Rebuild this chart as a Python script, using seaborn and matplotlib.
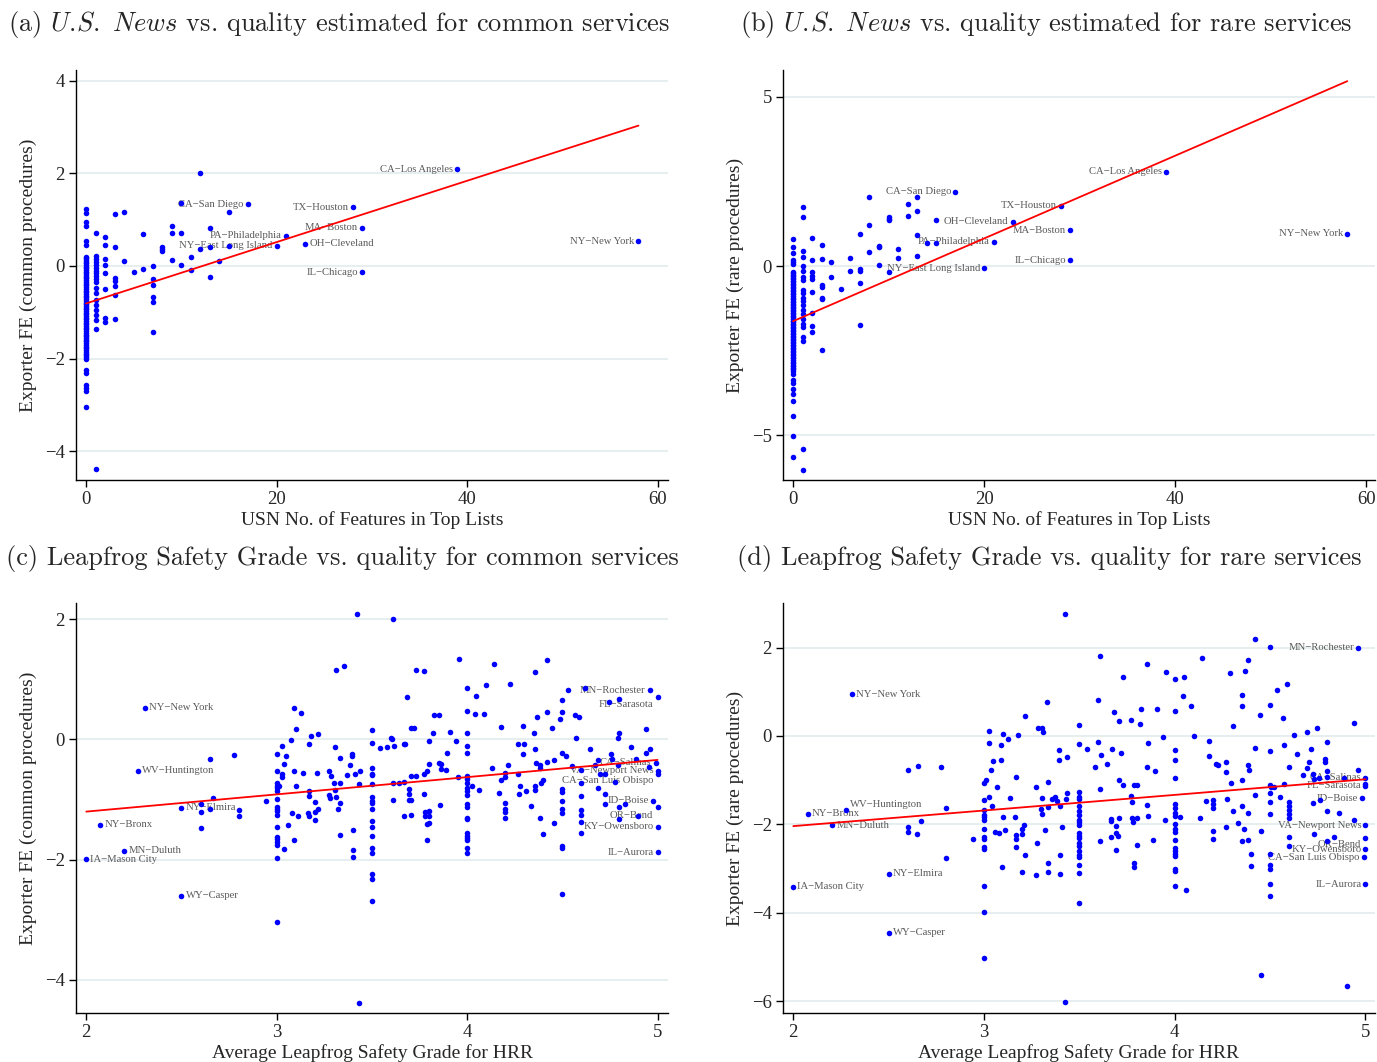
import matplotlib
matplotlib.use("Agg")
import pandas as pd
import matplotlib.pyplot as plt
import seaborn as sns

# ---------------- (a) U.S. News features vs FE, common procedures ----------------
# hospitals with zero USN features (dense column at x = 0)
a_fe_zero = [1.22, 1.14, 0.94, 0.86, 0.53, 0.45,
             0.20, 0.17, 0.13, 0.09, 0.06, 0.02, -0.02, -0.05, -0.09, -0.13, -0.16, -0.20,
             -0.24, -0.27, -0.31, -0.35, -0.38, -0.42, -0.46, -0.49, -0.53, -0.57, -0.60,
             -0.64, -0.68, -0.71, -0.75, -0.79, -0.82, -0.86, -0.90, -0.93, -0.97, -1.01,
             -1.04, -1.08, -1.12, -1.15, -1.19, -1.23, -1.26, -1.30, -1.34, -1.37, -1.41,
             -1.45, -1.48, -1.52, -1.56, -1.59, -1.63, -1.67, -1.70, -1.74, -1.78, -1.81,
             -1.85, -1.89, -1.92, -1.96, -2.01,
             -2.24, -2.32, -2.57, -2.64, -2.70, -3.04]
a_usn = [1, 1, 1, 1, 1, 1, 1, 1, 1, 1, 1, 1, 1, 1, 1, 1, 1, 1, 1, 1,
         2, 2, 2, 2, 2, 2, 2, 2,
         3, 3, 3, 3, 3, 3, 3,
         4, 4, 5, 6, 6,
         7, 7, 7, 7, 7, 7,
         8, 8, 8, 9, 9, 9, 10, 10, 10, 11, 11, 12, 12, 13, 13, 13, 14, 15, 15]
a_fe = [0.72, 0.22, 0.15, 0.08, 0.02, -0.04, -0.10, -0.16, -0.22, -0.28, -0.34, -0.48,
        -0.59, -0.73, -0.84, -0.95, -1.06, -1.17, -1.37, -4.39,
        0.63, 0.45, 0.15, 0.02, -0.16, -0.49, -1.12, -1.22,
        1.12, 0.40, -0.27, -0.32, -0.43, -0.63, -1.15,
        1.17, 0.10, -0.12, 0.68, -0.06,
        -0.01, -0.28, -0.41, -0.68, -0.77, -1.42,
        0.40, 0.36, 0.33, 0.86, 0.72, 0.13, 1.35, 0.72, 0.03, 0.19, -0.09, 2.00, 0.37,
        0.82, 0.41, -0.24, 0.10, 1.16, 0.43]
a_lab_name = ["CA\u2212Los Angeles", "CA\u2212San Diego", "TX\u2212Houston", "MA\u2212Boston",
              "PA\u2212Philadelphia", "NY\u2212East Long Island", "OH\u2212Cleveland",
              "IL\u2212Chicago", "NY\u2212New York"]
a_lab_usn = [39, 17, 28, 29, 21, 20, 23, 29, 58]
a_lab_fe = [2.09, 1.33, 1.27, 0.82, 0.65, 0.44, 0.48, -0.14, 0.53]
a_fit_usn = [0, 58]
a_fit_fe = [-0.81, 3.03]

# ---------------- (b) U.S. News features vs FE, rare procedures ----------------
b_fe_zero = [0.79, 0.57, 0.38, 0.18, 0.13, 0.06,
             -0.17, -0.21, -0.26, -0.30, -0.35, -0.39, -0.44, -0.48, -0.53, -0.57, -0.62,
             -0.66, -0.71, -0.75, -0.80, -0.84, -0.89, -0.93, -0.98, -1.02, -1.07, -1.11,
             -1.16, -1.20, -1.25, -1.29, -1.34, -1.38, -1.43, -1.47, -1.52, -1.56, -1.61,
             -1.65, -1.70, -1.74, -1.79, -1.83, -1.88, -1.92, -1.97, -2.01, -2.06, -2.10,
             -2.15, -2.19, -2.24, -2.28, -2.33, -2.37, -2.42, -2.46, -2.51, -2.55, -2.60,
             -2.64, -2.69, -2.73, -2.78, -2.82, -2.87, -2.91, -2.96, -3.00, -3.05, -3.10,
             -3.18, -3.38, -3.46, -3.63, -3.78, -4.00, -4.43, -5.01, -5.64]
b_usn = [1, 1, 1, 1, 1, 1, 1, 1, 1, 1, 1, 1, 1, 1, 1, 1, 1, 1, 1, 1, 1, 1,
         2, 2, 2, 2, 2, 2, 2, 2, 2,
         3, 3, 3, 3, 3, 3, 3,
         4, 4, 5, 6, 6,
         7, 7, 7, 7, 7,
         8, 8, 8, 9, 9, 9, 10, 10, 10, 10, 11, 11, 12, 12, 13, 13, 13, 13, 14, 15, 15]
b_fe = [1.75, 1.44, 0.45, 0.28, 0.00, -0.14, -0.32, -0.42, -0.71, -0.81, -0.93, -1.03,
        -1.16, -1.29, -1.42, -1.55, -1.70, -1.80, -2.10, -2.20, -5.39, -6.03,
        0.82, 0.18, -0.17, -0.30, -0.37, -0.76, -1.38, -1.77, -1.95,
        0.61, 0.20, -0.56, -0.63, -0.93, -0.98, -2.49,
        0.11, -0.32, -0.69, 0.25, -0.14,
        0.94, -0.10, -0.14, -0.51, -1.75,
        2.04, 1.20, 0.41, 0.60, 0.56, 0.04, 1.46, 1.39, 1.35, -0.19, 0.50, 0.25, 1.84, 1.47,
        2.03, 1.64, 0.92, 0.31, 0.69, 1.36, 0.69]
b_lab_name = ["CA\u2212Los Angeles", "CA\u2212San Diego", "TX\u2212Houston", "OH\u2212Cleveland",
              "MA\u2212Boston", "PA\u2212Philadelphia", "IL\u2212Chicago",
              "NY\u2212East Long Island", "NY\u2212New York"]
b_lab_usn = [39, 17, 28, 23, 29, 21, 29, 20, 58]
b_lab_fe = [2.78, 2.20, 1.78, 1.31, 1.06, 0.71, 0.17, -0.06, 0.96]
b_fit_usn = [0, 58]
b_fit_fe = [-1.63, 5.46]

# ---------------- (c) Leapfrog grade vs FE, common procedures ----------------
c_grade = [2.60, 2.60, 2.60, 2.65, 2.65, 2.667, 2.774, 2.80, 2.80, 2.942,
           3.0, 3.0, 3.0, 3.0, 3.0, 3.0, 3.0, 3.0, 3.0, 3.0, 3.0, 3.0, 3.0, 3.0, 3.0, 3.0, 3.0, 3.0,
           3.026, 3.047, 3.04, 3.026, 3.03, 3.012, 3.074, 3.09, 3.128, 3.10, 3.09, 3.10, 3.137,
           3.078, 3.114, 3.06, 3.09, 3.04, 3.168, 3.182, 3.215, 3.21, 3.168, 3.168, 3.20, 3.163,
           3.168, 3.215, 3.20, 3.20, 3.31, 3.307, 3.33, 3.275, 3.285, 3.30, 3.33, 3.307, 3.275,
           3.28, 3.31, 3.33, 3.323, 3.33,
           3.356, 3.424, 3.43, 3.37, 3.386, 3.393, 3.396, 3.41, 3.43, 3.436, 3.40, 3.40, 3.40,
           3.5, 3.5, 3.5, 3.5, 3.5, 3.5, 3.5, 3.5, 3.5, 3.5, 3.5, 3.5, 3.5, 3.5, 3.5, 3.5, 3.5, 3.5,
           3.543, 3.581, 3.602, 3.604, 3.618, 3.609, 3.613, 3.613, 3.644, 3.668, 3.668, 3.675,
           3.668, 3.682, 3.695, 3.695, 3.695, 3.707, 3.707, 3.707, 3.72, 3.707, 3.73, 3.73,
           3.775, 3.773, 3.787, 3.775, 3.778, 3.78, 3.80, 3.80, 3.787, 3.80, 3.787, 3.80, 3.80,
           3.82, 3.825, 3.853, 3.853, 3.862, 3.862, 3.86, 3.89, 3.895, 3.911, 3.94, 3.95, 3.956,
           4.0, 4.0, 4.0, 4.0, 4.0, 4.0, 4.0, 4.0, 4.0, 4.0, 4.0, 4.0, 4.0, 4.0, 4.0, 4.0, 4.0,
           4.0, 4.0, 4.0, 4.0,
           4.028, 4.045, 4.044, 4.06, 4.087, 4.10, 4.13, 4.143, 4.166, 4.18, 4.18, 4.20, 4.20,
           4.20, 4.20, 4.20, 4.20, 4.215, 4.227, 4.265, 4.265, 4.27, 4.276, 4.293, 4.293, 4.30,
           4.307, 4.333, 4.354, 4.353, 4.357, 4.354, 4.356, 4.363, 4.368, 4.382, 4.384, 4.39,
           4.40, 4.384, 4.40, 4.42, 4.42, 4.42, 4.445, 4.454, 4.454, 4.487,
           4.5, 4.5, 4.5, 4.5, 4.5, 4.5, 4.5, 4.5, 4.5, 4.5, 4.5,
           4.517, 4.53, 4.55, 4.565, 4.57, 4.588, 4.62, 4.644,
           4.6, 4.6, 4.6, 4.6, 4.6, 4.6, 4.6,
           4.67, 4.69, 4.69, 4.70, 4.723, 4.724, 4.726, 4.747, 4.757, 4.76, 4.79, 4.80, 4.80,
           4.79, 4.778, 4.80, 4.80, 4.83, 4.86, 4.887, 4.90, 4.94, 4.94, 4.96, 4.956]
c_fe = [-1.07, -1.20, -1.48, -0.32, -1.16, -0.98, -0.26, -1.17, -1.27, -1.03,
        -0.24, -0.53, -0.72, -0.77, -0.81, -0.85, -0.99, -1.12, -1.16, -1.19, -1.26, -1.46,
        -1.62, -1.66, -1.71, -1.75, -1.98, -3.03,
        -0.11, -0.28, -0.40, -0.58, -0.62, -0.78, -0.01, 0.53, 0.44, 0.17, -0.52, -0.77, -0.55,
        -1.22, -1.28, -1.42, -1.67, -1.82, -0.08, 0.06, 0.09, -0.55, -0.86, -0.94, -1.04, -1.23,
        -1.27, -1.16, -1.21, -1.34, 1.16, -0.13, -0.30, -0.53, -0.61, -0.72, -0.73, -0.84, -0.93,
        -0.97, -0.96, -1.05, -1.16, -1.59,
        1.22, 2.08, -4.38, -0.59, -0.42, -0.28, -0.25, -0.57, -0.74, -0.53, -1.50, -1.84, -1.96,
        0.16, -0.06, -0.48, -0.57, -0.59, -0.74, -0.95, -1.02, -1.05, -1.16, -1.35, -1.45,
        -1.60, -1.81, -1.89, -2.24, -2.32, -2.68,
        -0.14, -0.12, 0.03, 0.00, -0.11, 2.00, -0.72, -1.01, -0.72, -0.71, -0.07, -0.07,
        -1.27, 0.71, -0.83, -0.90, -1.00, -1.01, -0.60, 0.19, 0.19, -1.25, 1.16, -0.61,
        1.14, -0.58, -0.53, -0.91, -1.21, -1.27, -1.19, -1.27, -1.41, -1.39, -1.68, -0.03, -0.41,
        0.11, 0.40, 0.40, -0.39, -0.41, -0.49, -1.09, -0.51, -0.22, 0.13, -0.03, -0.63, 1.34,
        0.86, 0.48, 0.10, -0.11, -0.23, -0.60, -0.65, -0.72, -0.81, -0.85, -0.93, -1.07, -1.12,
        -1.30, -1.33, -1.56, -1.61, -1.64, -1.68, -1.81, -1.89,
        -0.78, 0.73, 0.42, -0.84, 0.43, 0.91, -0.47, 1.26, -0.89, 0.21, -0.68, -0.62, -0.55,
        -1.06, -1.15, -1.21, -1.30, -0.42, 0.93, -0.08, -0.57, -0.91, -0.78, 0.22, -0.25, -0.08,
        -0.85, -1.11, 1.12, 0.10, -0.16, -0.77, -0.84, -0.39, 0.37, -0.43, -0.48, -0.73,
        -0.68, -1.30, -1.58, 1.32, 0.45, -0.38, 0.19, -0.34, -1.39, 0.34,
        0.65, 0.46, -0.22, -0.83, -0.87, -1.03, -1.15, -1.23, -1.77, -1.80, -2.57,
        -0.27, 0.82, -0.44, 0.41, 0.03, 0.37, 0.86, -0.16,
        -0.50, -0.72, -0.94, -1.17, -1.26, -1.37, -1.55,
        -0.43, -0.34, -0.80, -0.58, -0.91, -0.58, -1.07, 0.63, -0.25, -0.32, 0.03, 0.10, 0.68,
        -0.42, -0.70, -1.13, -1.32, -1.07, -0.13, -0.33, -1.27, 0.18, -0.23, -0.16, -0.45]
c_lab_name = ["NY\u2212New York", "WV\u2212Huntington", "NY\u2212Bronx", "MN\u2212Duluth",
              "IA\u2212Mason City", "WY\u2212Casper", "NY\u2212Elmira",
              "MN\u2212Rochester", "FL\u2212Sarasota", "CA\u2212Salinas", "VA\u2212Newport News",
              "CA\u2212San Luis Obispo", "ID\u2212Boise", "OR\u2212Bend", "KY\u2212Owensboro",
              "IL\u2212Aurora"]
c_lab_grade = [2.306, 2.273, 2.072, 2.20, 2.0, 2.50, 2.50,
               4.96, 5.0, 4.99, 5.0, 5.0, 4.977, 5.0, 5.0, 5.0]
c_lab_fe = [0.53, -0.52, -1.42, -1.85, -1.99, -2.60, -1.14,
            0.82, 0.71, -0.39, -0.52, -0.57, -1.02, -1.12, -1.45, -1.88]
c_fit_grade = [2, 5]
c_fit_fe = [-1.20, -0.34]

# ---------------- (d) Leapfrog grade vs FE, rare procedures ----------------
d_grade = [2.60, 2.652, 2.774, 2.60, 2.60, 2.649, 2.668, 2.80, 2.80, 2.942,
           3.0, 3.0, 3.0, 3.0, 3.0, 3.0, 3.0, 3.0, 3.0, 3.0, 3.0, 3.0, 3.0, 3.0,
           3.024, 3.024, 3.01, 3.026, 3.038, 3.047, 3.04, 3.06, 3.077, 3.07, 3.09, 3.09, 3.10,
           3.093, 3.10, 3.11, 3.128, 3.136, 3.163, 3.166, 3.168, 3.168, 3.168, 3.18, 3.20, 3.20,
           3.208, 3.20, 3.213, 3.213, 3.274, 3.278, 3.274, 3.285, 3.302, 3.31, 3.304, 3.30,
           3.304, 3.32, 3.33, 3.334, 3.334, 3.334, 3.334,
           3.424, 3.427, 3.394, 3.394, 3.436, 3.354, 3.371, 3.385, 3.40, 3.436, 3.432, 3.41,
           3.40, 3.40,
           3.5, 3.5, 3.5, 3.5, 3.5, 3.5, 3.5, 3.5, 3.5, 3.5, 3.5, 3.5, 3.5, 3.5, 3.5, 3.5, 3.5,
           3.5, 3.5, 3.5, 3.5, 3.5,
           3.54, 3.58, 3.60, 3.606, 3.60, 3.615, 3.61, 3.61, 3.643, 3.665, 3.665, 3.672, 3.665,
           3.68, 3.69, 3.694, 3.70, 3.69, 3.706, 3.706, 3.706, 3.718, 3.729, 3.729, 3.77, 3.772,
           3.777, 3.776, 3.78, 3.786, 3.80, 3.80, 3.80, 3.786, 3.786, 3.816, 3.823, 3.853, 3.853,
           3.858, 3.857, 3.858, 3.888, 3.895, 3.909, 3.939, 3.949, 3.954,
           4.0, 4.0, 4.0, 4.0, 4.0, 4.0, 4.0, 4.0, 4.0, 4.0, 4.0, 4.0, 4.0, 4.0, 4.0, 4.0, 4.0,
           4.0, 4.0, 4.0,
           4.028, 4.046, 4.044, 4.058, 4.086, 4.10, 4.131, 4.144, 4.166, 4.18, 4.18, 4.198, 4.20,
           4.20, 4.20, 4.20, 4.214, 4.226, 4.268, 4.268, 4.273, 4.27, 4.292, 4.294, 4.303, 4.308,
           4.333, 4.352, 4.352, 4.354, 4.355, 4.362, 4.355, 4.368, 4.382, 4.385, 4.389, 4.385,
           4.385, 4.40, 4.40, 4.42, 4.422, 4.422, 4.445, 4.454, 4.454,
           4.5, 4.5, 4.5, 4.5, 4.5, 4.5, 4.5, 4.5, 4.5, 4.5, 4.5, 4.5,
           4.506, 4.518, 4.534, 4.553, 4.569, 4.573, 4.573, 4.588,
           4.6, 4.6, 4.6, 4.6, 4.6, 4.6, 4.6, 4.6,
           4.625, 4.643, 4.67, 4.692, 4.692, 4.702, 4.715, 4.727, 4.727, 4.73, 4.729, 4.748,
           4.757, 4.76, 4.79, 4.79, 4.80, 4.80, 4.80, 4.80, 4.80, 4.834, 4.863, 4.89, 4.902,
           4.94, 4.94, 4.96, 5.0]
d_fe = [-0.78, -0.68, -0.71, -2.05, -2.18, -2.21, -1.93, -1.64, -2.77, -2.33,
        -1.06, -1.46, -1.68, -1.79, -1.84, -1.90, -2.11, -2.29, -2.33, -2.51, -2.56, -3.40,
        -3.99, -5.02,
        0.11, -0.15, -0.99, -1.37, -0.77, -0.57, -1.59, -2.17, -2.20, -1.16, -0.20, -0.54, 0.05,
        -2.96, -1.83, -2.13, -0.06, -1.40, -1.84, -0.93, -2.24, -2.33, -2.51, 0.03, -2.11, -2.22,
        -2.02, -3.07, 0.45, -2.69, -1.15, -2.43, -3.15, 0.19, 0.17, 0.10, -1.41, -1.66,
        -1.77, -2.13, 0.77, -1.05, -1.60, -2.88, -3.07,
        2.76, -6.03, -0.32, -0.54, -0.48, -1.43, -1.37, -1.48, -1.58, -1.28, -1.43, -2.05,
        -2.70, -3.12,
        0.24, -0.19, -1.26, -1.37, -1.42, -1.58, -1.69, -1.79, -1.90, -1.95, -2.02, -2.20,
        -2.26, -2.32, -2.43, -2.48, -2.60, -2.70, -2.73, -2.91, -3.09, -3.77,
        -0.29, -0.70, 0.82, 1.82, -0.14, -0.43, -1.21, -2.37, -0.63, -1.88, -1.92, -0.30, -2.29,
        0.55, -2.03, -2.20, -2.26, -2.58, 0.34, -1.00, -1.86, -0.38, 1.34, -1.12, 0.37, -1.35,
        -1.49, -1.86, -1.95, -1.12, -1.10, -1.86, -2.47, -2.88, -2.97, 0.27, 0.60, 1.64, -0.70,
        -0.16, -1.56, -1.80, -2.35, -0.80, 0.60, -0.02, -1.91, 1.44,
        1.30, 0.56, -0.32, -0.55, -0.96, -1.55, -1.62, -1.75, -1.80, -1.99, -2.10, -2.18,
        -2.35, -2.54, -2.60, -2.66, -2.72, -3.02, -3.05, -3.40,
        -1.83, 1.34, 0.91, -3.49, 0.67, -0.01, -1.86, 1.76, -1.47, -0.12, -0.46, -1.44, -1.55,
        -1.62, -2.16, -2.34, -0.64, -0.66, -0.59, -0.81, -1.43, -2.05, 1.43, -1.06, 0.23, -1.69,
        -1.96, 0.92, 0.68, -0.99, -1.58, -2.11, -2.38, 1.46, 1.73, -0.66, -0.78, -1.75,
        -2.35, -2.68, -2.95, 2.19, -0.28, -1.34, 0.48, -2.14, -5.40,
        2.02, 0.70, -0.35, -1.12, -1.30, -1.50, -1.77, -2.66, -2.91, -3.01, -3.36, -3.62,
        -1.15, -1.15, 1.05, -1.38, 0.40, -0.20, -1.09, 1.18,
        -0.71, -1.49, -1.58, -1.68, -1.77, -1.86, -2.28, -2.48,
        0.03, -0.41, -0.88, 0.08, -0.72, -0.58, -0.30, -0.85, -1.52, -0.97, -2.22, 0.18,
        -0.94, -1.46, -0.51, -0.60, -0.14, -0.79, -0.92, -1.69, -2.37, -2.29, -1.75, -0.94, -5.65,
        0.29, -1.91, -0.77, -1.09]
d_lab_name = ["NY\u2212New York", "WV\u2212Huntington", "NY\u2212Bronx", "MN\u2212Duluth",
              "IA\u2212Mason City", "NY\u2212Elmira", "WY\u2212Casper",
              "MN\u2212Rochester", "CA\u2212Salinas", "FL\u2212Sarasota", "ID\u2212Boise",
              "VA\u2212Newport News", "OR\u2212Bend", "KY\u2212Owensboro",
              "CA\u2212San Luis Obispo", "IL\u2212Aurora"]
d_lab_grade = [2.308, 2.274, 2.075, 2.203, 2.0, 2.50, 2.50,
               4.963, 5.0, 5.0, 4.98, 5.0, 5.0, 5.0, 4.99, 5.0]
d_lab_fe = [0.94, -1.67, -1.76, -2.02, -3.41, -3.12, -4.45,
            2.00, -0.94, -1.13, -1.41, -2.02, -2.30, -2.56, -2.75, -3.36]
d_fit_grade = [2, 5]
d_fit_fe = [-2.04, -0.98]

# label placement (offset in points; negative dx = label to the left of the dot)
a_lab_off = [(-3, 0)] * 6 + [(3, 0)] + [(-3, 0)] * 2
b_lab_off = [(-3, 0)] * 9
c_lab_off = [(3, 0)] * 7 + [(-3, 0), (-3, -5.5), (-3, 0), (-3, 0), (-3, -5), (-3, 0),
                            (-3, -6.5), (-3, 0), (-3, 0)]
d_lab_off = [(3, 0), (3, 4)] + [(3, 0)] * 5 + [(-3, 0)] * 5 + [(-3, -5), (-3, 0), (-3, 0), (-3, 0)]

DOT = "#0000ff"
LAB_COLOR = "#5a5a5a"
GRID_COLOR = "#e4edef"

sns.set_theme(style="white")
plt.rcParams["font.family"] = ["Liberation Serif", "DejaVu Serif"]
plt.rcParams["mathtext.fontset"] = "cm"
plt.rcParams["axes.unicode_minus"] = True


def draw_panel(ax, x, y, lab_x, lab_y, lab_name, lab_off, fit_x, fit_y,
               xlim, ylim, xticks, yticks, xlabel, ylabel):
    ax.yaxis.grid(True, color=GRID_COLOR, linewidth=1.3)
    ax.set_axisbelow(True)
    sns.scatterplot(x=x, y=y, ax=ax, color=DOT, s=16, linewidth=0, zorder=3, legend=False)
    sns.scatterplot(x=lab_x, y=lab_y, ax=ax, color=DOT, s=16, linewidth=0, zorder=3, legend=False)
    for name, xx, yy, (dx, dy) in zip(lab_name, lab_x, lab_y, lab_off):
        ax.annotate(name, (xx, yy), xytext=(dx, dy), textcoords="offset points",
                    ha="right" if dx < 0 else "left", va="center",
                    fontsize=7.7, color=LAB_COLOR, zorder=2)
    sns.lineplot(x=fit_x, y=fit_y, ax=ax, color="red", linewidth=1.3, zorder=4)
    ax.set_xlim(*xlim)
    ax.set_ylim(*ylim)
    ax.set_xticks(xticks)
    ax.set_yticks(yticks)
    ax.set_xlabel(xlabel, fontsize=14, labelpad=2)
    ax.set_ylabel(ylabel, fontsize=14, labelpad=6)
    ax.tick_params(direction="out", length=5, width=1, labelsize=13.5, color="black",
                   left=True, bottom=True, pad=3)
    for side in ["top", "right"]:
        ax.spines[side].set_visible(False)
    for side in ["left", "bottom"]:
        ax.spines[side].set_color("black")
        ax.spines[side].set_linewidth(1.0)


fig = plt.figure(figsize=(13.77, 10.62), dpi=100)
W, H = 1377, 1062
ax_a = fig.add_axes([76 / W, 1 - 480 / H, 592 / W, 410 / H])
ax_b = fig.add_axes([783 / W, 1 - 480 / H, 592 / W, 410 / H])
ax_c = fig.add_axes([76 / W, 1 - 1013 / H, 592 / W, 410 / H])
ax_d = fig.add_axes([783 / W, 1 - 1013 / H, 592 / W, 410 / H])

usn_label = "USN No. of Features in Top Lists"
leap_label = "Average Leapfrog Safety Grade for HRR"

draw_panel(ax_a, [0] * len(a_fe_zero) + a_usn, a_fe_zero + a_fe,
           a_lab_usn, a_lab_fe, a_lab_name, a_lab_off, a_fit_usn, a_fit_fe,
           (-1.05, 61.1), (-4.62, 4.23), [0, 20, 40, 60], [-4, -2, 0, 2, 4],
           usn_label, "Exporter FE (common procedures)")
draw_panel(ax_b, [0] * len(b_fe_zero) + b_usn, b_fe_zero + b_fe,
           b_lab_usn, b_lab_fe, b_lab_name, b_lab_off, b_fit_usn, b_fit_fe,
           (-1.05, 60.9), (-6.32, 5.79), [0, 20, 40, 60], [-5, 0, 5],
           usn_label, "Exporter FE (rare procedures)")
draw_panel(ax_c, c_grade, c_fe, c_lab_grade, c_lab_fe, c_lab_name, c_lab_off,
           c_fit_grade, c_fit_fe, (1.946, 5.055), (-4.55, 2.27), [2, 3, 4, 5], [-4, -2, 0, 2],
           leap_label, "Exporter FE (common procedures)")
draw_panel(ax_d, d_grade, d_fe, d_lab_grade, d_lab_fe, d_lab_name, d_lab_off,
           d_fit_grade, d_fit_fe, (1.946, 5.05), (-6.27, 3.01), [2, 3, 4, 5], [-6, -4, -2, 0, 2],
           leap_label, "Exporter FE (rare procedures)")

title_kw = dict(fontsize=19, va="center", ha="left", family="cmr10")
fig.text(8 / W, 1 - 24 / H,
         r"(a) $\mathit{U.\!S.\ News}$ vs. quality estimated for common services", **title_kw)
fig.text(740 / W, 1 - 24 / H,
         r"(b) $\mathit{U.\!S.\ News}$ vs. quality estimated for rare services", **title_kw)
fig.text(6 / W, 1 - 558 / H,
         "(c) Leapfrog Safety Grade vs. quality for common services", **title_kw)
fig.text(737 / W, 1 - 558 / H,
         "(d) Leapfrog Safety Grade vs. quality for rare services", **title_kw)

fig.savefig("out.png", dpi=100)
